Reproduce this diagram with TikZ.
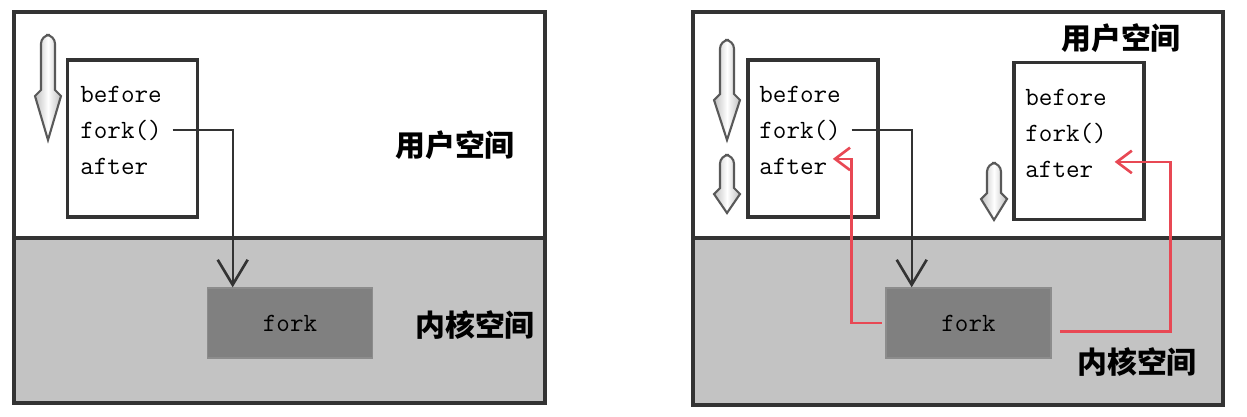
\documentclass[tikz,border=0pt]{standalone}
\usepackage{fontspec}
\newfontfamily\cjk{Noto Sans CJK SC}
\usetikzlibrary{arrows.meta}
\definecolor{retred}{RGB}{232,72,84}
\definecolor{kerngray}{RGB}{195,195,195}
\definecolor{boxgray}{RGB}{128,128,128}

% hollow down arrow: x, top, head start, tip
\newcommand\hollowdown[4]{%
  \draw[hollow] (#1-7,#3) [rounded corners=5pt] -- (#1-7,#2) -- (#1+7,#2)
    [sharp corners] -- (#1+7,#3) -- (#1+13,#3+6) -- (#1,#4) -- (#1-13,#3+6) -- cycle;}

\begin{document}
\begin{tikzpicture}[x=0.02cm, y=-0.02cm,
    panel/.style={draw=black!80, line width=1.8pt},
    codebox/.style={rectangle, draw=black!80, line width=1.8pt, fill=white,
                    minimum width=2.6cm, minimum height=3.14cm, inner sep=0pt},
    code/.style={font=\ttfamily\fontsize{15}{18}\selectfont, anchor=base west, inner sep=0pt},
    forkbox/.style={rectangle, fill=boxgray, draw=black!45, line width=0.8pt,
                    minimum width=3.3cm, minimum height=1.4cm,
                    font=\ttfamily\fontsize{15}{18}\selectfont},
    space/.style={font=\cjk\bfseries\fontsize{17}{20}\selectfont, inner sep=0pt},
    call/.style={draw=black!80, line width=1.3pt,
                 -{Straight Barb[length=5mm, width=6mm, line width=1.5pt]}},
    ret/.style={draw=retred, line width=1.5pt,
                -{Straight Barb[length=3mm, width=4.5mm, line width=1.5pt]}},
    hollow/.style={draw=black!65, line width=1.2pt,
                   left color=black!25, right color=black!25, middle color=white},
  ]
  \useasboundingbox (0,0) rectangle (1247,416);

  % left panel
  \fill[kerngray] (14,238) rectangle (545,403);
  \draw[panel] (14,12) rectangle (545,403);
  \draw[panel] (14,238) -- (545,238);
  \hollowdown{48}{35}{90}{140}
  \node[codebox] (lbox) at (132.5,138.5) {};
  \node[code] (lbefore) at (80,102) {before};
  \node[code] (lfork) at (80,138) {fork()};
  \node[code] (lafter) at (80,174) {after};
  \node[forkbox] (lkern) at (290,323) {fork};
  \node[space] (luser) at (455,145) {用户空间};
  \node[space] (lkernel) at (475,325) {内核空间};
  \draw[call] ([xshift=6pt]lfork.east) -- ++(60,0) coordinate (lbend)
    -- (lbend |- lkern.north);

  % right panel
  \fill[kerngray] (693,238) rectangle (1223,405);
  \draw[panel] (693,12) rectangle (1223,405);
  \draw[panel] (693,238) -- (1223,238);
  \hollowdown{727}{40}{94}{140}
  \hollowdown{727}{155}{188}{213}
  \hollowdown{994}{163}{193}{220}
  \node[codebox] (pbox) at (813,138.5) {};
  \node[code] (pbefore) at (759,102) {before};
  \node[code] (pfork) at (759,138) {fork()};
  \node[code] (pafter) at (759,174) {after};
  \node[codebox] (cbox) at (1079,141) {};
  \node[code] (cbefore) at (1025,105) {before};
  \node[code] (cfork) at (1025,141) {fork()};
  \node[code] (cafter) at (1025,177) {after};
  \node[forkbox] (rkern) at (968.5,323) {fork};
  \node[space] (ruser) at (1121,38) {用户空间};
  \node[space] (rkernel) at (1137,362) {内核空间};
  \draw[call] ([xshift=6pt]pfork.east) -- ++(60,0) coordinate (rbend)
    -- (rbend |- rkern.north);
  \draw[ret] ([xshift=-2pt]rkern.west) -- ++(-30,0) |- ([xshift=3pt,yshift=4pt]pafter.east);
  \draw[ret] ([xshift=5pt,yshift=-5pt]rkern.east) -- ++(110,0) |- ([xshift=12pt,yshift=4pt]cafter.east);
\end{tikzpicture}
\end{document}
